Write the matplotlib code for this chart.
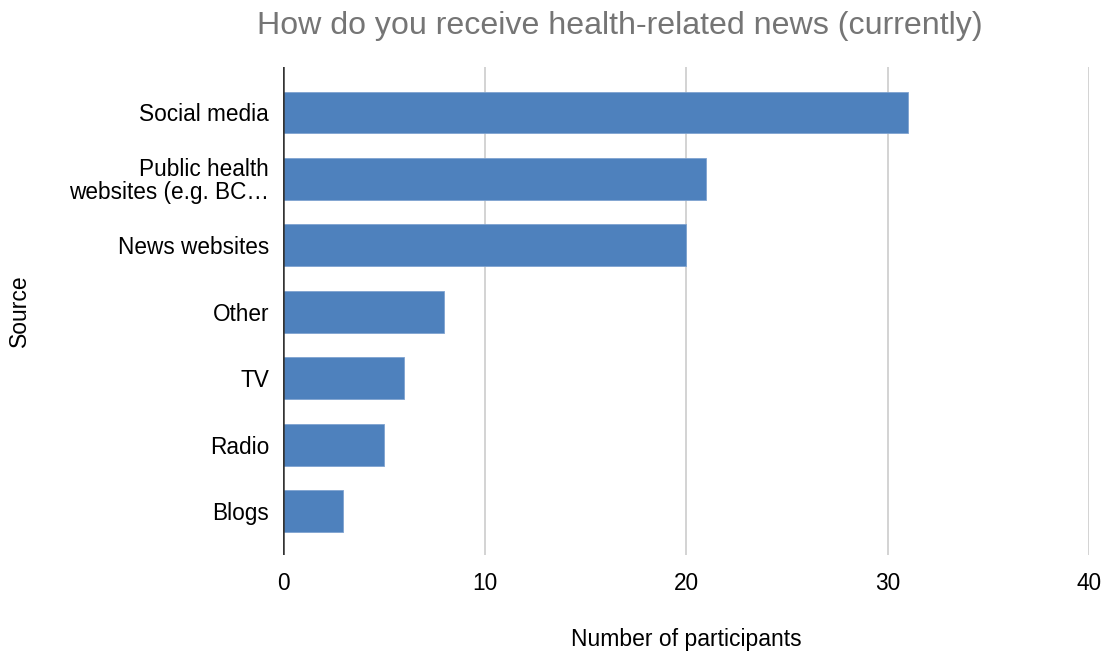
import matplotlib
matplotlib.use("Agg")
import matplotlib.pyplot as plt

plt.rcParams['font.family'] = ['Liberation Sans', 'DejaVu Sans']

# Survey responses: number of participants per news source
sources = ['Social media', 'Public health\nwebsites (e.g. BC…', 'News websites',
           'Other', 'TV', 'Radio', 'Blogs']
counts = [31, 21, 20, 8, 6, 5, 3]
x_ticks = [0, 10, 20, 30, 40]

bar_color = '#4e81bd'

fig = plt.figure(figsize=(11.09, 6.53), dpi=100)
ax = fig.add_axes([0.2552, 0.150, 0.7268, 0.747])

bars = ax.barh(range(len(sources)), counts, height=0.63, color=bar_color,
               edgecolor='#7fa3d0', linewidth=0.6, zorder=3)

ax.set_xlim(0, 40)
ax.set_ylim(6.66, -0.68)
ax.set_xticks(x_ticks)
ax.set_yticks(range(len(sources)))
ax.set_yticklabels(sources, fontsize=16.3, linespacing=1.0)
ax.tick_params(axis='x', labelsize=16.3, length=0, pad=12)
ax.tick_params(axis='y', length=0, pad=10)

ax.grid(True, axis='x', color='#cccccc', linewidth=1.2, zorder=0)
ax.axvline(0, color='#333333', linewidth=1.8, zorder=4)
for side in ['top', 'right', 'bottom', 'left']:
    ax.spines[side].set_visible(False)

ax.set_xlabel('Number of participants', fontsize=16.5, labelpad=24)
ax.set_ylabel('Source', fontsize=16.5)
ax.yaxis.set_label_coords(-0.313, 0.5)

fig.text(0.559, 0.960, 'How do you receive health-related news (currently)',
         ha='center', va='center', fontsize=23.1, color='#757575')

fig.savefig('out.png', dpi=100)
